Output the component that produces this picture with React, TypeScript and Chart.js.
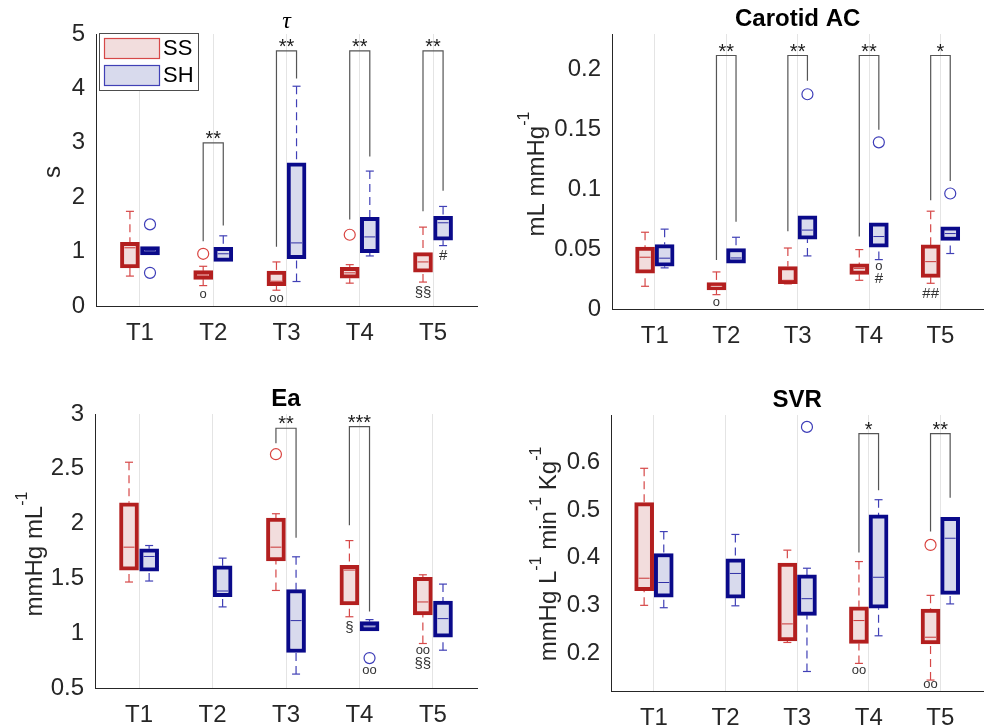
import React, { useEffect, useRef } from "react";
import { Chart, registerables } from "chart.js";
Chart.register(...registerables);

const categories = ["T1", "T2", "T3", "T4", "T5"];
const groups = ["SS", "SH"];

// Box values per category: [lower whisker, Q1, median, Q3, upper whisker]
const tauSS = [[0.55, 0.70, 1.07, 1.17, 1.74], [0.375, 0.49, 0.57, 0.65, 0.73], [0.29, 0.375, 0.455, 0.64, 0.81], [0.42, 0.51, 0.61, 0.71, 0.76], [0.44, 0.62, 0.81, 0.98, 1.45]];
const tauSH = [[0.94, 0.94, 1.02, 1.09, 1.09], [0.82, 0.82, 0.96, 1.08, 1.29], [0.45, 0.87, 1.16, 2.63, 4.04], [0.92, 0.98, 1.27, 1.63, 2.48], [1.11, 1.21, 1.53, 1.65, 1.83]];
// Outliers: [category number, value]
const tauSSOut = [[2, 0.96], [4, 1.31]];
const tauSHOut = [[1, 1.50], [1, 0.61]];
// Brackets: [category number, SS start, SH start, top, label]
const tauBrackets = [[2, 1.19, 1.48, 3.0, "**"], [3, 1.09, 4.18, 4.69, "**"], [4, 1.59, 2.75, 4.69, "**"], [5, 1.74, 2.12, 4.69, "**"]];
// Marks: [category number, group (0 SS / 1 SH), value, text]
const tauMarks = [[2, 0, 0.22, "o"], [3, 0, 0.14, "oo"], [5, 0, 0.25, "§§"], [5, 1, 0.92, "#"]];
const tauYTicks = [0, 1, 2, 3, 4, 5];

const acSS = [[0.019, 0.0299, 0.0433, 0.0517, 0.0642], [0.012, 0.016, 0.0198, 0.022, 0.031], [0.021, 0.0212, 0.024, 0.0355, 0.051], [0.024, 0.029, 0.034, 0.0377, 0.0497], [0.0215, 0.0265, 0.0396, 0.0536, 0.0818]];
const acSH = [[0.0344, 0.0358, 0.0425, 0.0539, 0.0668], [0.0383, 0.0383, 0.0427, 0.0506, 0.060], [0.0444, 0.0584, 0.066, 0.0779, 0.0779], [0.0413, 0.0517, 0.0606, 0.072, 0.072], [0.0464, 0.0573, 0.0631, 0.0687, 0.0687]];
const acSSOut: number[][] = [];
const acSHOut = [[3, 0.1796], [4, 0.1394], [5, 0.0966]];
const acBrackets = [[2, 0.041, 0.073, 0.212, "**"], [3, 0.065, 0.191, 0.212, "**"], [4, 0.0606, 0.150, 0.212, "**"], [5, 0.091, 0.107, 0.212, "*"]];
const acMarks = [[2, 0, 0.0053, "o"], [4, 1, 0.036, "o"], [4, 1, 0.025, "#"], [5, 0, 0.013, "##"]];
const acYTicks = [0, 0.05, 0.1, 0.15, 0.2];

const eaSS = [[1.467, 1.576, 1.785, 2.19, 2.56], null, [1.39, 1.66, 1.785, 2.05, 2.09], [1.15, 1.257, 1.576, 1.62, 1.845], [0.906, 1.167, 1.285, 1.51, 1.533]];
const eaSH = [[1.476, 1.567, 1.70, 1.77, 1.80], [1.24, 1.333, 1.385, 1.615, 1.685], [0.627, 0.824, 1.115, 1.397, 1.697], [1.02, 1.02, 1.067, 1.106, 1.124], [0.845, 0.964, 1.133, 1.294, 1.448]];
const eaSSOut = [[3, 2.633]];
const eaSHOut = [[4, 0.773]];
const eaBrackets = [[3, 2.733, 1.87, 2.87, "**"], [4, 1.985, 1.197, 2.885, "***"]];
const eaMarks = [[4, 0, 1.05, "§"], [4, 1, 0.657, "oo"], [5, 0, 0.84, "oo"], [5, 0, 0.72, "§§"]];
const eaYTicks = [0.5, 1, 1.5, 2, 2.5, 3];

const svrSS = [[0.30, 0.331, 0.357, 0.516, 0.588], null, [0.222, 0.225, 0.261, 0.389, 0.416], [0.178, 0.22, 0.268, 0.297, 0.392], [0.143, 0.219, 0.233, 0.292, 0.321]];
const svrSH = [[0.295, 0.317, 0.348, 0.409, 0.455], [0.299, 0.315, 0.367, 0.398, 0.449], [0.161, 0.279, 0.314, 0.364, 0.378], [0.236, 0.294, 0.359, 0.49, 0.522], [0.303, 0.323, 0.441, 0.485, 0.485]];
const svrSSOut = [[5, 0.427]];
const svrSHOut = [[3, 0.675]];
const svrBrackets = [[4, 0.411, 0.542, 0.661, "*"], [5, 0.455, 0.526, 0.661, "**"]];
const svrMarks = [[4, 0, 0.164, "oo"], [5, 0, 0.133, "oo"]];
const svrYTicks = [0.2, 0.3, 0.4, 0.5, 0.6];

const FONT = "'Liberation Sans', Arial, Helvetica, sans-serif";
const EDGE = ["#b31f1f", "#0a0a8a"];
const FILL = ["#f2dddd", "#d8daed"];
const MEDIAN = ["#c93535", "#3030a6"];
const WHISK = ["#d64848", "#4040b6"];
const OUTL = ["#d9433f", "#3d3db8"];
const OFF = [-0.137, 0.137];
const TEXT = "#262626";
const BOXW = 19;
const BORDER = 4;

type Panel = {
  id: string; title: string; italic: boolean; ylabel: string;
  ss: (number[] | null)[]; sh: (number[] | null)[];
  ssOut: number[][]; shOut: number[][];
  brackets: any[][]; marks: any[][];
  yMin: number; yMax: number; yTicks: number[]; legend: boolean;
  box: { left: number; top: number; w: number; h: number };
  area: { l: number; t: number; r: number; b: number };
  ylab: [number, number];
};

const panels: Panel[] = [
  { id: "tau", title: "τ", italic: true, ylabel: "s", ss: tauSS, sh: tauSH, ssOut: tauSSOut, shOut: tauSHOut, brackets: tauBrackets, marks: tauMarks, yMin: 0, yMax: 5, yTicks: tauYTicks, legend: true, box: { left: 0, top: 0, w: 495, h: 360 }, area: { l: 96, t: 34, r: 477, b: 306 }, ylab: [52, 172] },
  { id: "ac", title: "Carotid AC", italic: false, ylabel: "mL mmHg^{-1}", ss: acSS, sh: acSH, ssOut: acSSOut, shOut: acSHOut, brackets: acBrackets, marks: acMarks, yMin: 0, yMax: 0.23, yTicks: acYTicks, legend: false, box: { left: 495, top: 0, w: 495, h: 360 }, area: { l: 117, t: 34, r: 494, b: 309 }, ylab: [41, 174] },
  { id: "ea", title: "Ea", italic: false, ylabel: "mmHg mL^{-1}", ss: eaSS, sh: eaSH, ssOut: eaSSOut, shOut: eaSHOut, brackets: eaBrackets, marks: eaMarks, yMin: 0.5, yMax: 3, yTicks: eaYTicks, legend: false, box: { left: 0, top: 360, w: 495, h: 367 }, area: { l: 95, t: 54, r: 477, b: 328 }, ylab: [34, 194] },
  { id: "svr", title: "SVR", italic: false, ylabel: "mmHg L^{-1} min^{-1} Kg^{-1}", ss: svrSS, sh: svrSH, ssOut: svrSSOut, shOut: svrSHOut, brackets: svrBrackets, marks: svrMarks, yMin: 0.12, yMax: 0.70, yTicks: svrYTicks, legend: false, box: { left: 495, top: 360, w: 495, h: 367 }, area: { l: 116, t: 55, r: 494, b: 331 }, ylab: [53, 194] },
];

function parseRich(s: string) {
  const out: { t: string; sup: boolean }[] = [];
  const re = /\^\{([^}]*)\}/g;
  let last = 0; let m: RegExpExecArray | null;
  while ((m = re.exec(s))) {
    if (m.index > last) out.push({ t: s.slice(last, m.index), sup: false });
    out.push({ t: m[1], sup: true });
    last = m.index + m[0].length;
  }
  if (last < s.length) out.push({ t: s.slice(last), sup: false });
  return out;
}

function makePlugin(p: Panel) {
  return {
    id: "boxExtras_" + p.id,
    beforeDatasetsDraw(chart: any) {
      const { ctx, scales } = chart;
      const x = scales.x, y = scales.y;
      ctx.save();
      [p.ss, p.sh].forEach((arr, g) => {
        arr.forEach((b, i) => {
          if (!b) return;
          const cx = x.getPixelForValue(i + 1 + OFF[g]);
          ctx.strokeStyle = WHISK[g];
          ctx.lineWidth = 1.2;
          const seg = (v0: number, v1: number) => {
            if (Math.abs(v1 - v0) < 1e-9) return;
            ctx.setLineDash([8, 5]);
            ctx.beginPath();
            ctx.moveTo(cx, y.getPixelForValue(v1));
            ctx.lineTo(cx, y.getPixelForValue(v0));
            ctx.stroke();
            ctx.setLineDash([]);
            const py = y.getPixelForValue(v1);
            ctx.beginPath();
            ctx.moveTo(cx - 4, py);
            ctx.lineTo(cx + 4, py);
            ctx.stroke();
          };
          seg(b[3], b[4]);
          seg(b[1], b[0]);
        });
      });
      ctx.restore();
    },
    afterDatasetsDraw(chart: any) {
      const { ctx, scales } = chart;
      const x = scales.x, y = scales.y;
      ctx.save();
      // medians
      [p.ss, p.sh].forEach((arr, g) => {
        arr.forEach((b, i) => {
          if (!b) return;
          const cx = x.getPixelForValue(i + 1 + OFF[g]);
          const py = y.getPixelForValue(b[2]);
          ctx.strokeStyle = MEDIAN[g];
          ctx.lineWidth = 1;
          ctx.beginPath();
          ctx.moveTo(cx - BOXW / 2 + BORDER, py);
          ctx.lineTo(cx + BOXW / 2 - BORDER, py);
          ctx.stroke();
        });
      });
      // significance brackets
      p.brackets.forEach(([c, a, bb, top, label]) => {
        const xa = x.getPixelForValue(c + OFF[0]);
        const xb = x.getPixelForValue(c + OFF[1]);
        const yt = y.getPixelForValue(top);
        ctx.strokeStyle = "#555555";
        ctx.lineWidth = 1.2;
        ctx.beginPath();
        ctx.moveTo(xa, y.getPixelForValue(a));
        ctx.lineTo(xa, yt);
        ctx.lineTo(xb, yt);
        ctx.lineTo(xb, y.getPixelForValue(bb));
        ctx.stroke();
        ctx.fillStyle = "#1a1a1a";
        ctx.font = `20px ${FONT}`;
        ctx.textAlign = "center";
        ctx.textBaseline = "alphabetic";
        ctx.fillText(label, (xa + xb) / 2, yt + 2);
      });
      // marks
      p.marks.forEach(([c, g, v, t]) => {
        const mx = x.getPixelForValue(c + OFF[g]);
        const my = y.getPixelForValue(v);
        ctx.fillStyle = "#333333";
        ctx.font = `${t.startsWith("o") ? 13 : 15}px ${FONT}`;
        ctx.textAlign = "center";
        ctx.textBaseline = "middle";
        ctx.fillText(t, mx, my);
      });
      ctx.restore();
    },
    afterDraw(chart: any) {
      const { ctx, chartArea } = chart;
      ctx.save();
      // title
      ctx.fillStyle = "#000";
      ctx.textAlign = "center";
      ctx.textBaseline = "alphabetic";
      ctx.font = p.italic ? `italic 24px 'Liberation Serif', 'DejaVu Serif', serif` : `bold 24px ${FONT}`;
      ctx.fillText(p.title, (chartArea.left + chartArea.right) / 2, chartArea.top - (p.italic ? 6 : 8));
      // y label (rotated, with superscripts)
      const segs = parseRich(p.ylabel);
      const main = 24, sup = 16, raise = 15;
      let total = 0;
      const widths = segs.map((s) => {
        ctx.font = `${s.sup ? sup : main}px ${FONT}`;
        const w = ctx.measureText(s.t).width;
        total += w;
        return w;
      });
      ctx.translate(p.ylab[0], p.ylab[1]);
      ctx.rotate(-Math.PI / 2);
      ctx.fillStyle = TEXT;
      ctx.textAlign = "left";
      let cx = -total / 2;
      segs.forEach((s, i) => {
        ctx.font = `${s.sup ? sup : main}px ${FONT}`;
        ctx.fillText(s.t, cx, s.sup ? 8 - raise : 8);
        cx += widths[i];
      });
      ctx.restore();
      // legend
      if (p.legend) {
        ctx.save();
        const lx = chartArea.left + 3, ly = chartArea.top - 1, lw = 99, lh = 57;
        ctx.fillStyle = "#ffffff";
        ctx.fillRect(lx, ly, lw, lh);
        ctx.strokeStyle = "#4d4d4d";
        ctx.lineWidth = 1;
        ctx.strokeRect(lx + 0.5, ly + 0.5, lw, lh);
        chart.data.datasets.slice(0, 2).forEach((ds: any, g: number) => {
          const sy = ly + 5 + g * 27;
          ctx.fillStyle = FILL[g];
          ctx.fillRect(lx + 5, sy, 55, 20);
          ctx.strokeStyle = WHISK[g];
          ctx.lineWidth = 1.2;
          ctx.strokeRect(lx + 5.5, sy + 0.5, 55, 20);
          ctx.fillStyle = "#000";
          ctx.font = `22px ${FONT}`;
          ctx.textAlign = "left";
          ctx.textBaseline = "middle";
          ctx.fillText(ds.label, lx + 64, sy + 11);
        });
        ctx.restore();
      }
    },
  };
}

function makeConfig(p: Panel): any {
  const boxSets = [p.ss, p.sh].map((arr, g) => ({
    type: "bar",
    label: groups[g],
    data: arr
      .map((b, i) => (b ? { x: i + 1 + OFF[g], y: [b[1], b[3]] } : null))
      .filter((d) => d !== null),
    backgroundColor: FILL[g],
    borderColor: EDGE[g],
    borderWidth: BORDER,
    borderSkipped: false,
    barThickness: BOXW,
    grouped: false,
    order: 2,
  }));
  const outSets = [p.ssOut, p.shOut].map((arr, g) => ({
    type: "scatter",
    label: groups[g] + " outliers",
    data: arr.map(([c, v]) => ({ x: c + OFF[g], y: v })),
    pointRadius: 5.5,
    pointBorderWidth: 1.2,
    pointBorderColor: OUTL[g],
    pointBackgroundColor: "rgba(0,0,0,0)",
    showLine: false,
    order: 1,
  }));
  const yw = p.area.l;
  const xh = p.box.h - p.area.b;
  return {
    type: "bar",
    data: { datasets: [...boxSets, ...outSets] },
    options: {
      animation: false,
      responsive: false,
      maintainAspectRatio: false,
      devicePixelRatio: 1,
      layout: { padding: { left: 0, top: p.area.t, right: p.box.w - p.area.r, bottom: 0 } },
      plugins: { legend: { display: false }, tooltip: { enabled: false }, title: { display: false } },
      scales: {
        x: {
          type: "linear",
          min: 0.4,
          max: 5.6,
          offset: false,
          afterBuildTicks: (s: any) => {
            s.ticks = categories.map((_, i) => ({ value: i + 1 }));
          },
          afterFit: (s: any) => {
            s.height = xh;
          },
          ticks: {
            callback: (_v: any, i: number) => categories[i],
            font: { family: FONT, size: 24 },
            color: TEXT,
            padding: 13,
            maxRotation: 0,
            autoSkip: false,
          },
          grid: { color: "#e4e4e4", lineWidth: 1, drawTicks: false, offset: false },
          border: { color: TEXT, width: 1 },
        },
        y: {
          type: "linear",
          min: p.yMin,
          max: p.yMax,
          afterBuildTicks: (s: any) => {
            s.ticks = p.yTicks.map((v) => ({ value: v }));
          },
          afterFit: (s: any) => {
            s.width = yw;
          },
          ticks: {
            callback: (v: any) => String(v),
            font: { family: FONT, size: 24 },
            color: TEXT,
            padding: 11,
          },
          grid: { display: false, drawTicks: false },
          border: { color: TEXT, width: 1 },
        },
      },
    },
    plugins: [makePlugin(p)],
  };
}

function PanelChart({ p }: { p: Panel }) {
  const ref = useRef<HTMLCanvasElement>(null);
  useEffect(() => {
    const chart = new Chart(ref.current as HTMLCanvasElement, makeConfig(p));
    return () => chart.destroy();
  }, [p]);
  return (
    <canvas
      ref={ref}
      width={p.box.w}
      height={p.box.h}
      style={{ position: "absolute", left: p.box.left, top: p.box.top, width: p.box.w, height: p.box.h }}
    />
  );
}

export default function App() {
  return (
    <div style={{ position: "absolute", left: 0, top: 0, width: 990, height: 727, background: "#ffffff" }}>
      {panels.map((p) => (
        <PanelChart key={p.id} p={p} />
      ))}
    </div>
  );
}
